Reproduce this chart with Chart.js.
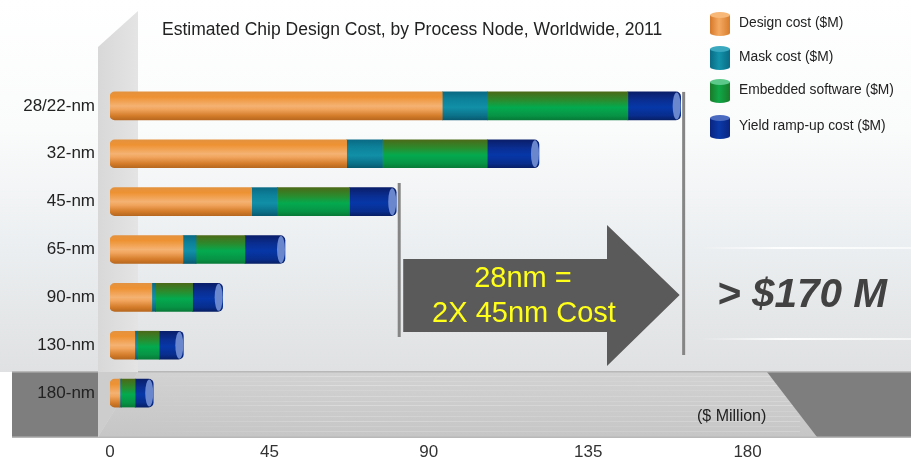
<!DOCTYPE html>
<html>
<head>
<meta charset="utf-8">
<title>Estimated Chip Design Cost</title>
<script src="https://cdn.jsdelivr.net/npm/chart.js@4"></script>
<style>
    body { margin: 0; background: #fff; }
    #wrap { position: relative; width: 911px; height: 459px; }
</style>
</head>
<body>
<div id="wrap"><canvas id="costChart"></canvas></div>
<script>
// Values ($ million)
const nodes = ['28/22-nm', '32-nm', '45-nm', '65-nm', '90-nm', '130-nm', '180-nm'];
const designCost = [93.8, 66.8, 40.0, 20.6, 11.8, 7.0, 2.8];
const maskCost = [12.7, 10.1, 7.3, 3.7, 1.1, 0.7, 0.4];
const softwareCost = [39.7, 29.6, 20.3, 13.8, 10.4, 6.2, 3.9];
const yieldCost = [14.9, 14.6, 13.2, 11.3, 8.5, 6.8, 5.1];
const xTicks = [0, 45, 90, 135, 180];

const seriesNames = ['Design cost ($M)', 'Mask cost ($M)', 'Embedded software ($M)', 'Yield ramp-up cost ($M)'];

const FONT = "'Liberation Sans', Arial, sans-serif";

// vertical colour stops for the cylinder look
const orangeStops = [[0, '#e4923f'], [0.18, '#ee9233'], [0.5, '#f4b273'], [0.62, '#f1a55d'], [0.85, '#d47c2a'], [1, '#b8681f']];
const tealStops = [[0, '#0a6a84'], [0.25, '#0d8099'], [0.55, '#1190a8'], [0.85, '#0b7189'], [1, '#085a70']];
const greenStops = [[0, '#4b6a18'], [0.3, '#2a8c2e'], [0.55, '#04aa4f'], [0.85, '#079345'], [1, '#087a38']];
const blueStops = [[0, '#0a1e6a'], [0.3, '#0a2e92'], [0.55, '#0637a8'], [0.85, '#082d8c'], [1, '#071f66']];

function barGradient(context, stops) {
    const chart = context.chart;
    if (!chart.chartArea || context.dataIndex === undefined) {
        return stops[2][1];
    }
    const y = chart.scales.y.getPixelForValue(context.dataIndex);
    const g = chart.ctx.createLinearGradient(0, y - 14, 0, y + 14);
    stops.forEach(s => g.addColorStop(s[0], s[1]));
    return g;
}

// background: wall, floor, gradient
const backdrop = {
    id: 'backdrop',
    beforeDraw(chart) {
        const ctx = chart.ctx;
        const w = chart.width;
        ctx.save();
        let g = ctx.createLinearGradient(0, 0, 0, 372);
        g.addColorStop(0, '#ffffff');
        g.addColorStop(0.35, '#fafbfb');
        g.addColorStop(0.65, '#eceff1');
        g.addColorStop(1, '#dfe1e2');
        ctx.fillStyle = g;
        ctx.fillRect(0, 0, w, 372);

        // floor (brushed metal look)
        g = ctx.createLinearGradient(0, 372, 0, 437);
        g.addColorStop(0, '#d2d2d2');
        g.addColorStop(1, '#c6c6c6');
        ctx.fillStyle = g;
        ctx.fillRect(12, 372, w - 12, 65);
        const streaks = [[376, 0.25], [381, 0.15], [385, 0.3], [390, 0.12], [396, 0.22], [401, 0.18],
                         [405, 0.28], [411, 0.12], [416, 0.2], [421, 0.25], [426, 0.14], [431, 0.2]];
        streaks.forEach(s => {
            const sg = ctx.createLinearGradient(140, 0, 800, 0);
            sg.addColorStop(0, 'rgba(255,255,255,0)');
            sg.addColorStop(0.3, 'rgba(255,255,255,' + s[1] + ')');
            sg.addColorStop(0.7, 'rgba(255,255,255,' + (s[1] * 0.6) + ')');
            sg.addColorStop(1, 'rgba(255,255,255,' + s[1] + ')');
            ctx.fillStyle = sg;
            ctx.fillRect(100, s[0], 700, 1);
        });
        ctx.fillStyle = '#7e7e7e';
        ctx.fillRect(12, 372, 86, 65);
        ctx.beginPath();
        ctx.moveTo(767, 372);
        ctx.lineTo(w, 372);
        ctx.lineTo(w, 437);
        ctx.lineTo(817, 437);
        ctx.closePath();
        ctx.fill();
        ctx.fillStyle = '#b8b8b8';
        ctx.fillRect(12, 371, w - 12, 1.5);
        ctx.fillRect(12, 436.5, w - 12, 1.5);

        // back wall
        g = ctx.createLinearGradient(98, 0, 138, 0);
        g.addColorStop(0, '#d8d8d8');
        g.addColorStop(1, '#e4e4e4');
        ctx.fillStyle = g;
        ctx.beginPath();
        ctx.moveTo(98, 47);
        ctx.lineTo(138, 11);
        ctx.lineTo(138, 372);
        ctx.lineTo(98, 437);
        ctx.closePath();
        ctx.fill();
        ctx.fillStyle = '#cdcdcd';
        ctx.beginPath();
        ctx.moveTo(98, 372);
        ctx.lineTo(138, 372);
        ctx.lineTo(98, 437);
        ctx.closePath();
        ctx.fill();

        // faint highlight lines on the right
        [247, 338].forEach(yy => {
            const hg = ctx.createLinearGradient(700, 0, 911, 0);
            hg.addColorStop(0, 'rgba(255,255,255,0)');
            hg.addColorStop(0.4, 'rgba(255,255,255,0.95)');
            hg.addColorStop(1, 'rgba(255,255,255,0.6)');
            ctx.fillStyle = hg;
            ctx.fillRect(700, yy, 211, 2);
        });
        ctx.restore();
    }
};

function drawCylinderIcon(ctx, x, cy, stops, topColor) {
    const w = 20, top = cy - 8, bottom = cy + 10;
    const g = ctx.createLinearGradient(x, 0, x + w, 0);
    stops.forEach(s => g.addColorStop(s[0], s[1]));
    ctx.fillStyle = g;
    ctx.beginPath();
    ctx.moveTo(x, top);
    ctx.lineTo(x, bottom);
    ctx.ellipse(x + w / 2, bottom, w / 2, 3, 0, Math.PI, 0, true);
    ctx.lineTo(x + w, top);
    ctx.closePath();
    ctx.fill();
    ctx.fillStyle = topColor;
    ctx.beginPath();
    ctx.ellipse(x + w / 2, top, w / 2, 3, 0, 0, Math.PI * 2);
    ctx.fill();
}

// title, legend, call-outs
const overlay = {
    id: 'overlay',
    afterDatasetsDraw(chart) {
        const ctx = chart.ctx;
        const x = chart.scales.x;
        const y = chart.scales.y;
        ctx.save();

        // right-end caps of each cylinder
        const meta = chart.getDatasetMeta(3);
        meta.data.forEach(bar => {
            const p = bar.getProps(['x', 'y', 'height'], true);
            ctx.fillStyle = '#6a86cc';
            ctx.beginPath();
            ctx.ellipse(p.x - 4, p.y, 4, p.height / 2 - 0.5, 0, 0, Math.PI * 2);
            ctx.fill();
        });

        // marker lines at 28nm and 45nm totals
        const total = i => designCost[i] + maskCost[i] + softwareCost[i] + yieldCost[i];
        const x28 = x.getPixelForValue(total(0)) + 3;
        const x45 = x.getPixelForValue(total(2)) + 3;
        ctx.fillStyle = '#858585';
        ctx.fillRect(x28 - 1.5, y.getPixelForValue(0) - 14, 3, 355 - (y.getPixelForValue(0) - 14));
        ctx.fillRect(x45 - 1.5, 183, 3, 154);

        // big arrow
        ctx.fillStyle = '#5a5a5a';
        ctx.beginPath();
        ctx.moveTo(x45 + 4, 259);
        ctx.lineTo(607, 259);
        ctx.lineTo(607, 225);
        ctx.lineTo(x28 - 4, 295);
        ctx.lineTo(607, 366);
        ctx.lineTo(607, 332);
        ctx.lineTo(x45 + 4, 332);
        ctx.closePath();
        ctx.fill();

        ctx.fillStyle = '#ffff1a';
        ctx.font = '29px ' + FONT;
        ctx.textAlign = 'center';
        ctx.textBaseline = 'middle';
        ctx.fillText('28nm =', 523, 279);
        ctx.fillText('2X 45nm Cost', 524, 314);

        ctx.fillStyle = '#424242';
        ctx.font = 'italic bold 40.5px ' + FONT;
        ctx.textAlign = 'left';
        ctx.fillText('> $170 M', 717, 296);

        ctx.fillStyle = '#222';
        ctx.font = '16px ' + FONT;
        ctx.fillText('($ Million)', 697, 417);

        // title
        ctx.font = '17.5px ' + FONT;
        ctx.fillStyle = '#222';
        ctx.fillText('Estimated Chip Design Cost, by Process Node, Worldwide, 2011', 162, 30);

        // legend
        const iconStops = [
            [[0, '#d5782a'], [0.45, '#f4aa62'], [1, '#d77c2b']],
            [[0, '#0a6a84'], [0.45, '#1393ab'], [1, '#0a6a84']],
            [[0, '#1a7a2a'], [0.45, '#10a848'], [1, '#1a7a2a']],
            [[0, '#0a2580'], [0.45, '#0a3aa8'], [1, '#0a2580']]
        ];
        const tops = ['#f7b878', '#3aa8bf', '#5cc98a', '#4b6bc0'];
        const rows = [23, 57, 90, 126];
        ctx.font = '13.8px ' + FONT;
        rows.forEach((ry, i) => {
            drawCylinderIcon(ctx, 710, ry, iconStops[i], tops[i]);
            ctx.fillStyle = '#222';
            ctx.fillText(seriesNames[i], 739, ry);
        });
        ctx.restore();
    }
};

new Chart(document.getElementById('costChart'), {
    type: 'bar',
    data: {
        labels: nodes,
        datasets: [
            {
                label: seriesNames[0],
                data: designCost,
                backgroundColor: c => barGradient(c, orangeStops),
                borderRadius: {topLeft: 5, bottomLeft: 5, topRight: 0, bottomRight: 0},
                borderSkipped: false
            },
            {
                label: seriesNames[1],
                data: maskCost,
                backgroundColor: c => barGradient(c, tealStops)
            },
            {
                label: seriesNames[2],
                data: softwareCost,
                backgroundColor: c => barGradient(c, greenStops)
            },
            {
                label: seriesNames[3],
                data: yieldCost,
                backgroundColor: c => barGradient(c, blueStops),
                borderRadius: {topLeft: 0, bottomLeft: 0, topRight: 5, bottomRight: 5},
                borderSkipped: false
            }
        ]
    },
    options: {
        indexAxis: 'y',
        responsive: true,
        maintainAspectRatio: false,
        animation: false,
        datasets: {
            bar: { barThickness: 28, borderWidth: 0 }
        },
        layout: {
            padding: { top: 82, right: 4, left: 0, bottom: 0 }
        },
        scales: {
            x: {
                stacked: true,
                min: 0,
                max: 225,
                afterFit(scale) { scale.height = 42; },
                afterBuildTicks(scale) {
                    scale.ticks = xTicks.map(v => ({ value: v }));
                },
                grid: { display: false, drawTicks: false },
                border: { display: false },
                ticks: {
                    padding: 25,
                    color: '#333',
                    font: { family: FONT, size: 17 }
                }
            },
            y: {
                stacked: true,
                afterFit(scale) { scale.width = 110; },
                grid: { display: false, drawTicks: false },
                border: { display: false },
                ticks: {
                    padding: 15,
                    color: '#222',
                    font: { family: FONT, size: 17 }
                }
            }
        },
        plugins: {
            legend: { display: false },
            title: { display: false },
            tooltip: { enabled: false }
        }
    },
    plugins: [backdrop, overlay]
});
</script>
</body>
</html>
